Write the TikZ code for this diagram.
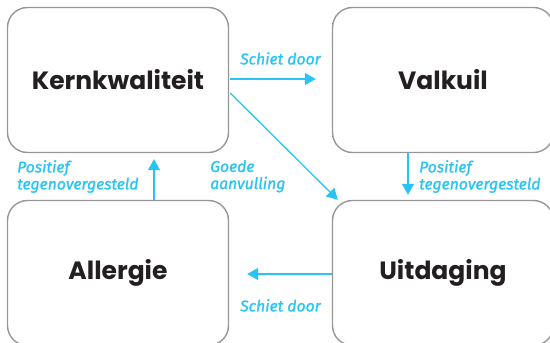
\documentclass[tikz,border=0pt]{standalone}
\usepackage{fontspec}
\setmainfont{Poppins}
\newfontfamily\labelfont[FakeBold=1.2]{Fira Sans}
\usetikzlibrary{arrows.meta,calc}
\definecolor{cyanarrow}{RGB}{41,196,243}
\definecolor{boxgray}{RGB}{150,150,150}
\definecolor{titleblack}{RGB}{35,31,32}
\begin{document}
\begin{tikzpicture}[x=1pt,y=-1pt,
  box/.style={draw=boxgray,line width=1.4pt,rounded corners=20pt,minimum width=221pt,minimum height=145pt,inner sep=0pt,
    font=\fontsize{25}{30}\selectfont\bfseries,text=titleblack},
  arr/.style={draw=cyanarrow,line width=1.3pt,-{Triangle[length=11pt,width=12pt]}},
  lbl/.style={font=\labelfont\itshape\fontsize{15.7}{17}\selectfont,text=cyanarrow,align=left,inner sep=0pt,anchor=north west}]
\useasboundingbox (0,0) rectangle (550,343);
\begin{scope}
\clip (0,0) rectangle (550,343);
\node[box] (k) at (118,80) {Kernkwaliteit};
\node[box] (v) at (443,80) {Valkuil};
\node[box] (a) at (118,273) {Allergie};
\node[box] (u) at (443,273) {Uitdaging};
\end{scope}
\draw[arr] ($(k.east)+(1,-1)$) -- ($(v.west)+(-16,-1)$);
\draw[arr] ($(k.east)+(1,13)$) -- ($(u.north west)+(6,0)$);
\draw[arr] ($(v.south)+(-35,0)$) -- ($(u.north)+(-35,-5)$);
\draw[arr] ($(a.north)+(36,0)$) -- ($(k.south)+(36,6)$);
\draw[arr] ($(u.west)+(0,1)$) -- ($(a.east)+(18,1)$);
\node[lbl] (l1) at (240,52) {Schiet door};
\node[lbl] (l2) at (17,160) {Positief\\tegenovergesteld};
\node[lbl] (l3) at (210,160) {Goede\\aanvulling};
\node[lbl] (l4) at (419,160) {Positief\\tegenovergesteld};
\node[lbl] (l5) at (240,299) {Schiet door};
\end{tikzpicture}
\end{document}
